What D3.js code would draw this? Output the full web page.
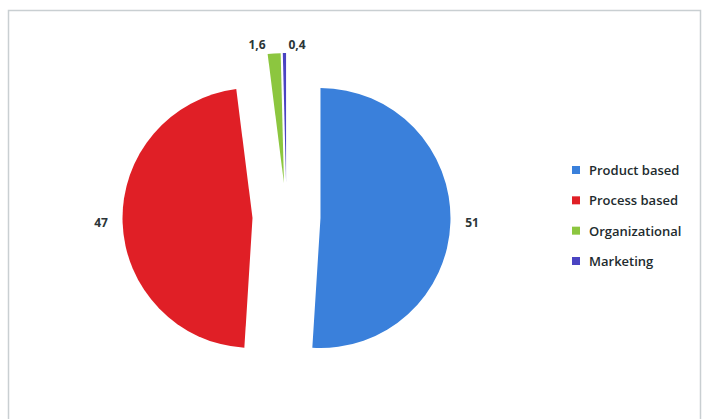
<!DOCTYPE html>
<html><head><meta charset="utf-8">
<script src="https://cdn.jsdelivr.net/npm/d3@7"></script>
<style>html,body{margin:0;padding:0;background:#fff;}svg{display:block;}</style>
</head><body>
<svg id="c" width="702" height="419"></svg>
<script>
const categories = ["Product based", "Process based", "Organizational", "Marketing"];
const values = [51, 47, 1.6, 0.4];
const valueLabels = ["51", "47", "1,6", "0,4"];
const colors = ["#3a80db", "#e01f26", "#8cc63f", "#4a44c2"];

const svg = d3.select("#c");
// frame
svg.append("path").attr("d", "M8.5,419 V10.5 H700.5 V419")
  .attr("fill", "none").attr("stroke", "#c9cfd2").attr("stroke-width", 1.5);

const cx = 286.5, cy = 217, r = 130, explode = 34;
const pie = d3.pie().sort(null).value(d => d)(values);
const arc = d3.arc().innerRadius(0).outerRadius(r);
const g = svg.append("g").attr("transform", `translate(${cx},${cy})`);

pie.forEach((p, i) => {
  const mid = (p.startAngle + p.endAngle) / 2;
  const dx = Math.sin(mid) * explode, dy = -Math.cos(mid) * explode;
  g.append("path").attr("d", arc(p)).attr("fill", colors[i])
    .attr("transform", `translate(${dx},${dy})`);
});

// value labels
const lab = [
  {x: 472, y: 227}, {x: 101, y: 227}, {x: 257, y: 49}, {x: 297, y: 49}
];
const lx = d3.scaleIdentity();
valueLabels.forEach((t, i) => {
  g.append("text").attr("x", lx(lab[i].x - cx)).attr("y", lab[i].y - cy)
    .attr("text-anchor", "middle").attr("font-family", "Open Sans, sans-serif")
    .attr("font-weight", "bold").attr("font-size", 12).attr("fill", "#2b3538").text(t);
});

// legend
const ly = d3.scalePoint().domain(categories).range([170, 261]);
const leg = svg.append("g");
categories.forEach((c, i) => {
  leg.append("rect").attr("x", 572).attr("y", ly(c) - 4).attr("width", 8).attr("height", 8).attr("fill", colors[i]);
  leg.append("text").attr("x", 589).attr("y", ly(c) + 5)
    .attr("font-family", "Open Sans, sans-serif").attr("font-size", 13)
    .attr("font-weight", 600).attr("fill", "#222b2e").text(c);
});
</script>
</body></html>
